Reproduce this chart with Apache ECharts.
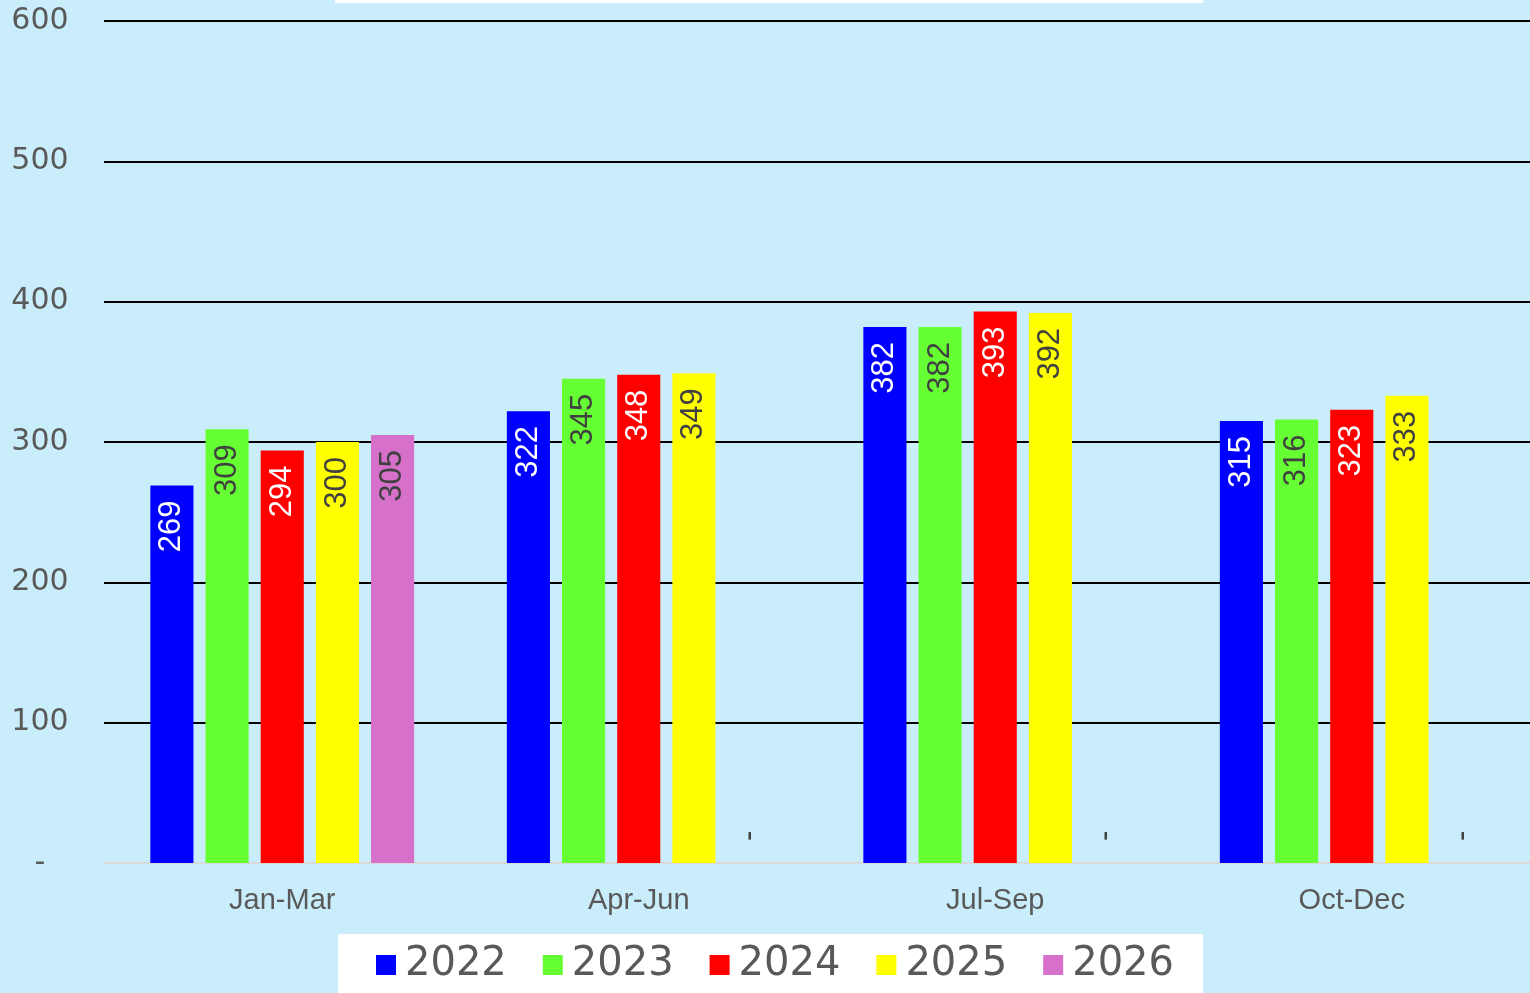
<!DOCTYPE html>
<html>
<head>
<meta charset="utf-8">
<script src="https://cdn.jsdelivr.net/npm/echarts@6/dist/echarts.min.js"></script>
<style>html,body{margin:0;padding:0;background:#caedfb;}#c{width:1530px;height:993px;}</style>
</head>
<body>
<div id="c"></div>
<script>
const categories = ['Jan-Mar', 'Apr-Jun', 'Jul-Sep', 'Oct-Dec'];
const years = ['2022', '2023', '2024', '2025', '2026'];
const v2022 = [269, 322, 382, 315];
const v2023 = [309, 345, 382, 316];
const v2024 = [294, 348, 393, 323];
const v2025 = [300, 349, 392, 333];
const v2026 = [305, 0, 0, 0];
const yTicks = [0, 100, 200, 300, 400, 500, 600];

const values = [v2022, v2023, v2024, v2025, v2026];
const colors = ['#0000ff', '#66ff33', '#ff0000', '#ffff00', '#d670cb'];
const labelColors = ['#ffffff', '#404040', '#ffffff', '#404040', '#404040'];
const FONT = '"Liberation Sans", Arial, sans-serif';

const series = years.map((y, i) => ({
  name: y,
  type: 'bar',
  barGap: '28%',
  barCategoryGap: '26%',
  itemStyle: { color: colors[i] },
  label: {
    show: true,
    position: 'insideTop',
    rotate: 90,
    align: 'right',
    verticalAlign: 'middle',
    distance: 15,
    fontSize: 31,
    fontFamily: FONT,
    color: labelColors[i],
    formatter: p => (p.value === 0 ? '-' : String(p.value))
  },
  data: values[i].map(v => v === 0
    ? { value: v, label: { position: 'insideBottom', align: 'left', distance: 22, color: '#404040' } }
    : v)
}));

const chart = echarts.init(document.getElementById('c'), null, { renderer: 'canvas' });
chart.setOption({
  backgroundColor: '#caedfb',
  animation: false,
  graphic: [
    { type: 'rect', shape: { x: 335, y: -50, width: 868, height: 53 }, style: { fill: '#ffffff' }, z: 0 },
    { type: 'rect', shape: { x: 338, y: 934, width: 865, height: 80 }, style: { fill: '#ffffff' }, z: 0 }
  ],
  legend: {
    data: years,
    left: 376,
    top: 945,
    padding: 0,
    itemWidth: 20,
    itemHeight: 20,
    itemGap: 36,
    icon: 'rect',
    textStyle: { fontSize: 40, fontFamily: '"DejaVu Sans", sans-serif', color: '#595959', lineHeight: 40, padding: [0, 0, 0, 4] }
  },
  grid: { left: 104, right: 0, top: 21, bottom: 130, containLabel: false },
  xAxis: {
    type: 'category',
    data: categories,
    axisLine: { show: true, lineStyle: { color: '#d9d9d9', width: 2 } },
    axisTick: { show: false },
    axisLabel: { fontSize: 29, fontFamily: FONT, color: '#595959', margin: 23 }
  },
  yAxis: {
    type: 'value',
    min: yTicks[0],
    max: yTicks[yTicks.length - 1],
    interval: yTicks[1] - yTicks[0],
    axisLine: { show: false },
    axisTick: { show: false },
    splitLine: { show: true, lineStyle: { color: '#000000', width: 2 } },
    axisLabel: {
      fontSize: 30, fontFamily: '"DejaVu Sans", sans-serif', color: '#595959',
      align: 'center', margin: 64, padding: [3, 0, 0, 0],
      formatter: v => (v === 0 ? '-' : String(v))
    }
  },
  series: series
});
</script>
</body>
</html>
